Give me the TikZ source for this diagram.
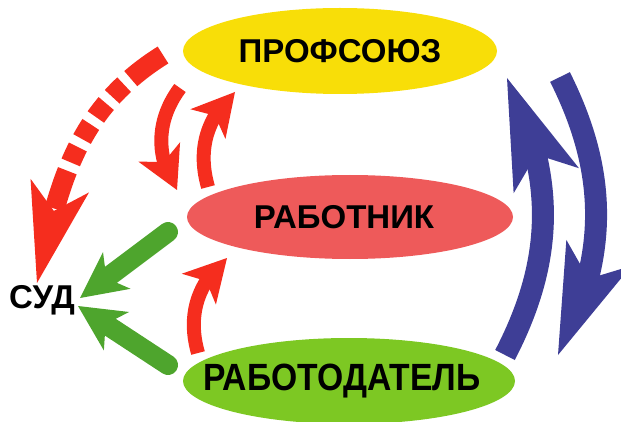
\documentclass[tikz,border=0pt]{standalone}
\usepackage{fontspec}
\setsansfont{Liberation Sans}
\usetikzlibrary{shapes.geometric,arrows.meta,bending}
\definecolor{lb_yellow}{RGB}{248, 222, 8}
\definecolor{lb_red}{RGB}{238, 90, 90}
\definecolor{lb_green}{RGB}{125, 200, 35}
\definecolor{ar_red}{RGB}{245, 45, 30}
\definecolor{ar_green}{RGB}{78, 165, 45}
\definecolor{ar_blue}{RGB}{62, 62, 150}
\tikzstyle{yn}=[ellipse,fill=lb_yellow,inner sep=0pt,
  minimum width=314pt,minimum height=86pt]
\tikzstyle{rn}=[ellipse,fill=lb_red,inner sep=0pt,
  minimum width=326pt,minimum height=84pt]
\tikzstyle{gn}=[ellipse,fill=lb_green,inner sep=0pt,
  minimum width=332pt,minimum height=86pt]
\tikzstyle{none}=[]
\tikzstyle{ra}=[draw=ar_red,line width=14pt,
  -{Stealth[length=42pt,width=46pt,inset=11pt,line width=0pt]}]
\tikzstyle{da}=[draw=ar_red,line width=20pt,
  dash pattern=on 40pt off 9pt on 17pt off 9pt on 17pt off 9pt on 17pt off 9pt on 17pt off 9pt on 40pt,
  -{Stealth[length=100pt,width=60pt,inset=26pt,line width=0pt]}]
\tikzstyle{ga}=[draw=ar_green,line width=20pt,line cap=round,
  -{Stealth[length=46pt,width=46pt,inset=13pt,line width=0pt]}]
\tikzstyle{ba}=[draw=ar_blue,line width=22pt,
  -{Stealth[length=110pt,width=70pt,inset=28pt,line width=0pt]}]

\begin{document}
\begin{tikzpicture}[x=1pt, y=1pt,
  every node/.style={font=\sffamily\bfseries\fontsize{33}{33}\selectfont}]
  \useasboundingbox (0, 0) rectangle (621, 421);
  \node [style=yn] (0) at (340, 370) {ПРОФСОЮЗ};
  \node [style=rn] (1) at (350, 204) {\makebox[0pt]{\hspace{-12pt}РАБОТНИК}};
  \node [style=gn] (2) at (349, 40) {\makebox[0pt]{\hspace{-14pt}\scalebox{1.02}[1.15]{РАБОТОДАТЕЛЬ}}};
  \node [style=none] (3) at (42, 121) {СУД};
  \node [style=none] (4) at (163, 366) {};
  \node [style=none] (5) at (37, 138) {};
  \node [style=none] (6) at (180, 333) {};
  \node [style=none] (7) at (177, 231) {};
  \node [style=none] (8) at (208, 234) {};
  \node [style=none] (9) at (235, 329) {};
  \node [style=none] (10) at (198, 68) {};
  \node [style=none] (11) at (227, 163) {};
  \node [style=none] (12) at (168, 189) {};
  \node [style=none] (13) at (80, 123) {};
  \node [style=none] (14) at (168, 56) {};
  \node [style=none] (15) at (78, 115) {};
  \node [style=none] (16) at (505, 66) {};
  \node [style=none] (17) at (507, 343) {};
  \node [style=none] (18) at (560, 344) {};
  \node [style=none] (19) at (558, 66) {};
  \draw [style=da, out=212, in=78] (4.center) to (5.center);
  \draw [style=ra, bend right=35] (6.center) to (7.center);
  \draw [style=ra, bend left=32] (8.center) to (9.center);
  \draw [style=ra, bend left=33] (10.center) to (11.center);
  \draw [style=ga] (12.center) to (13.center);
  \draw [style=ga] (14.center) to (15.center);
  \draw [style=ba, bend right=27] (16.center) to (17.center);
  \draw [style=ba, bend left=27] (18.center) to (19.center);
\end{tikzpicture}
\end{document}
